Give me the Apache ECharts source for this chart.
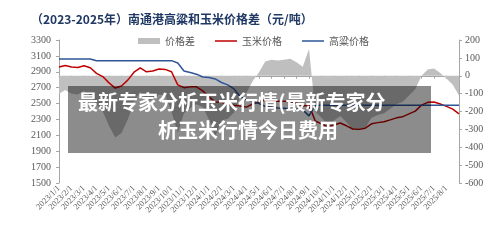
<!DOCTYPE html>
<html>
<head>
<meta charset="utf-8">
<script src="https://cdn.jsdelivr.net/npm/echarts@6/dist/echarts.min.js"></script>
<style>
    html, body { margin: 0; padding: 0; background: #fff; }
    #main { width: 500px; height: 240px; }
</style>
</head>
<body>
<div id="main"></div>
<script>
    // half-month points, 2023/1/1 .. 2025/9/1
    var dates = [
        '2023/1/1', '2023/1/16', '2023/2/1', '2023/2/16', '2023/3/1', '2023/3/16', '2023/4/1', '2023/4/16',
        '2023/5/1', '2023/5/16', '2023/6/1', '2023/6/16', '2023/7/1', '2023/7/16', '2023/8/1', '2023/8/16',
        '2023/9/1', '2023/9/16', '2023/10/1', '2023/10/16', '2023/11/1', '2023/11/16', '2023/12/1', '2023/12/16',
        '2024/1/1', '2024/1/16', '2024/2/1', '2024/2/16', '2024/3/1', '2024/3/16', '2024/4/1', '2024/4/16',
        '2024/5/1', '2024/5/16', '2024/6/1', '2024/6/16', '2024/7/1', '2024/7/16', '2024/8/1', '2024/8/16',
        '2024/9/1', '2024/9/16', '2024/10/1', '2024/10/16', '2024/11/1', '2024/11/16', '2024/12/1', '2024/12/16',
        '2025/1/1', '2025/1/16', '2025/2/1', '2025/2/16', '2025/3/1', '2025/3/16', '2025/4/1', '2025/4/16',
        '2025/5/1', '2025/5/16', '2025/6/1', '2025/6/16', '2025/7/1', '2025/7/16', '2025/8/1', '2025/8/16',
        '2025/9/1'
    ];
    var cornPrice = [
        2960, 2980, 2960, 2955, 2975, 2950, 2880, 2840,
        2760, 2695, 2720, 2795, 2895, 2950, 2900, 2910,
        2935, 2930, 2900, 2735, 2700, 2710, 2710, 2660,
        2585, 2520, 2515, 2495, 2480, 2470, 2455, 2495,
        2520, 2545, 2545, 2530, 2530, 2525, 2505, 2470,
        2480, 2280, 2245, 2205, 2230, 2255, 2220, 2180,
        2175, 2190, 2245, 2260, 2270, 2295, 2320, 2335,
        2370, 2405, 2480, 2515, 2520, 2495, 2465, 2430,
        2370
    ];
    var sorghumPrice = [
        3060, 3060, 3060, 3060, 3060, 3060, 3040, 3040,
        3040, 3040, 3040, 3040, 3040, 3040, 3040, 3040,
        3040, 3040, 3040, 3010, 2910, 2890, 2870, 2835,
        2828, 2810, 2765, 2735, 2685, 2585, 2550, 2525,
        2500, 2465, 2455, 2445, 2440, 2430, 2430, 2420,
        2345, 2480, 2480, 2480, 2480, 2480, 2480, 2480,
        2480, 2480, 2480, 2480, 2480, 2480, 2480, 2480,
        2480, 2480, 2480, 2480, 2480, 2480, 2480, 2480,
        2480
    ];
    var priceDiff = [
        -100, -80, -100, -105, -85, -110, -160, -200,
        -280, -345, -320, -245, -145, -90, -140, -130,
        -105, -110, -200, -320, -210, -180, -160, -175,
        -245, -340, -250, -240, -205, -115, -95, -30,
        20, 80, 90, 85, 90, 95, 75, 50,
        150, -200, -235, -275, -250, -225, -260, -300,
        -305, -290, -235, -220, -210, -185, -160, -145,
        -110, -75, 0, 35, 40, 15, -15, -50,
        -110
    ];

    var axisGrey = '#a6a6a6';
    var textGrey = '#595959';
    // thin bar inside a 22x6 box, so the legend shows a plain line
    var lineIcon = 'path://M0,2.3H22V3.7H0Z M0,0H0.01V0.01H0Z M21.99,5.99H22V6H21.99Z';

    var chart = echarts.init(document.getElementById('main'));
    var option = {
        animation: false,
        title: {
            text: '（2023-2025年）南通港高粱和玉米价格差（元/吨）',
            left: 26,
            top: 8,
            textStyle: {
                fontSize: 12,
                fontWeight: 'bold',
                color: '#1f3864',
                fontFamily: 'Noto Sans CJK SC'
            }
        },
        legend: {
            left: 133,
            top: 31,
            itemWidth: 22,
            itemHeight: 6,
            itemGap: 20,
            textStyle: { fontSize: 10, color: textGrey, fontFamily: 'Noto Sans CJK SC' },
            data: [
                { name: '价格差', icon: 'rect' },
                { name: '玉米价格', icon: lineIcon },
                { name: '高粱价格', icon: lineIcon }
            ]
        },
        grid: { left: 59, right: 41, top: 40, bottom: 57 },
        xAxis: {
            type: 'category',
            boundaryGap: false,
            data: dates,
            axisLine: { lineStyle: { color: axisGrey } },
            axisTick: {
                length: 3,
                interval: function (i) { return i % 2 === 0; },
                lineStyle: { color: axisGrey }
            },
            axisLabel: {
                interval: function (i) { return i % 2 === 0 && i < dates.length - 1; },
                rotate: 45,
                margin: 4,
                fontSize: 8.5,
                color: textGrey,
                fontFamily: 'Liberation Serif'
            }
        },
        yAxis: [
            {
                type: 'value',
                min: 1500,
                max: 3300,
                interval: 200,
                splitLine: { show: false },
                axisLine: { show: true, lineStyle: { color: axisGrey } },
                axisTick: { show: true, length: 3, lineStyle: { color: axisGrey } },
                axisLabel: {
                    margin: 8, fontSize: 10, color: textGrey, fontFamily: 'Liberation Serif',
                    formatter: function (v) { return String(v); }
                }
            },
            {
                type: 'value',
                min: -600,
                max: 200,
                interval: 100,
                splitLine: { show: false },
                axisLine: { show: true, lineStyle: { color: axisGrey } },
                axisTick: { show: true, length: 3, lineStyle: { color: axisGrey } },
                axisLabel: { margin: 6, fontSize: 10, color: textGrey, fontFamily: 'Liberation Serif' }
            }
        ],
        series: [
            {
                name: '价格差',
                type: 'line',
                yAxisIndex: 1,
                data: priceDiff,
                symbol: 'none',
                lineStyle: { width: 0 },
                itemStyle: { color: '#bfbfbf' },
                areaStyle: { color: '#bfbfbf', opacity: 1 }
            },
            {
                name: '玉米价格',
                type: 'line',
                data: cornPrice,
                symbol: 'none',
                lineStyle: { color: '#c00000', width: 1.5 },
                itemStyle: { color: '#c00000' }
            },
            {
                name: '高粱价格',
                type: 'line',
                data: sorghumPrice,
                symbol: 'none',
                lineStyle: { color: '#2f5597', width: 1.5 },
                itemStyle: { color: '#2f5597' }
            }
        ],
        // watermark banner laid over the plot
        graphic: [
            {
                type: 'rect',
                left: 68,
                top: 86,
                z: 100,
                shape: { width: 363, height: 67 },
                style: { fill: 'rgba(0,0,0,0.45)' }
            },
            {
                type: 'text',
                left: 78,
                top: 92,
                z: 101,
                style: {
                    text: '最新专家分析玉米行情(最新专家分',
                    fill: '#fff',
                    font: 'bold 20px "Noto Sans CJK SC"'
                }
            },
            {
                type: 'text',
                left: 158,
                top: 120,
                z: 101,
                style: {
                    text: '析玉米行情今日费用',
                    fill: '#fff',
                    font: 'bold 20px "Noto Sans CJK SC"'
                }
            }
        ]
    };
    chart.setOption(option);
</script>
</body>
</html>
